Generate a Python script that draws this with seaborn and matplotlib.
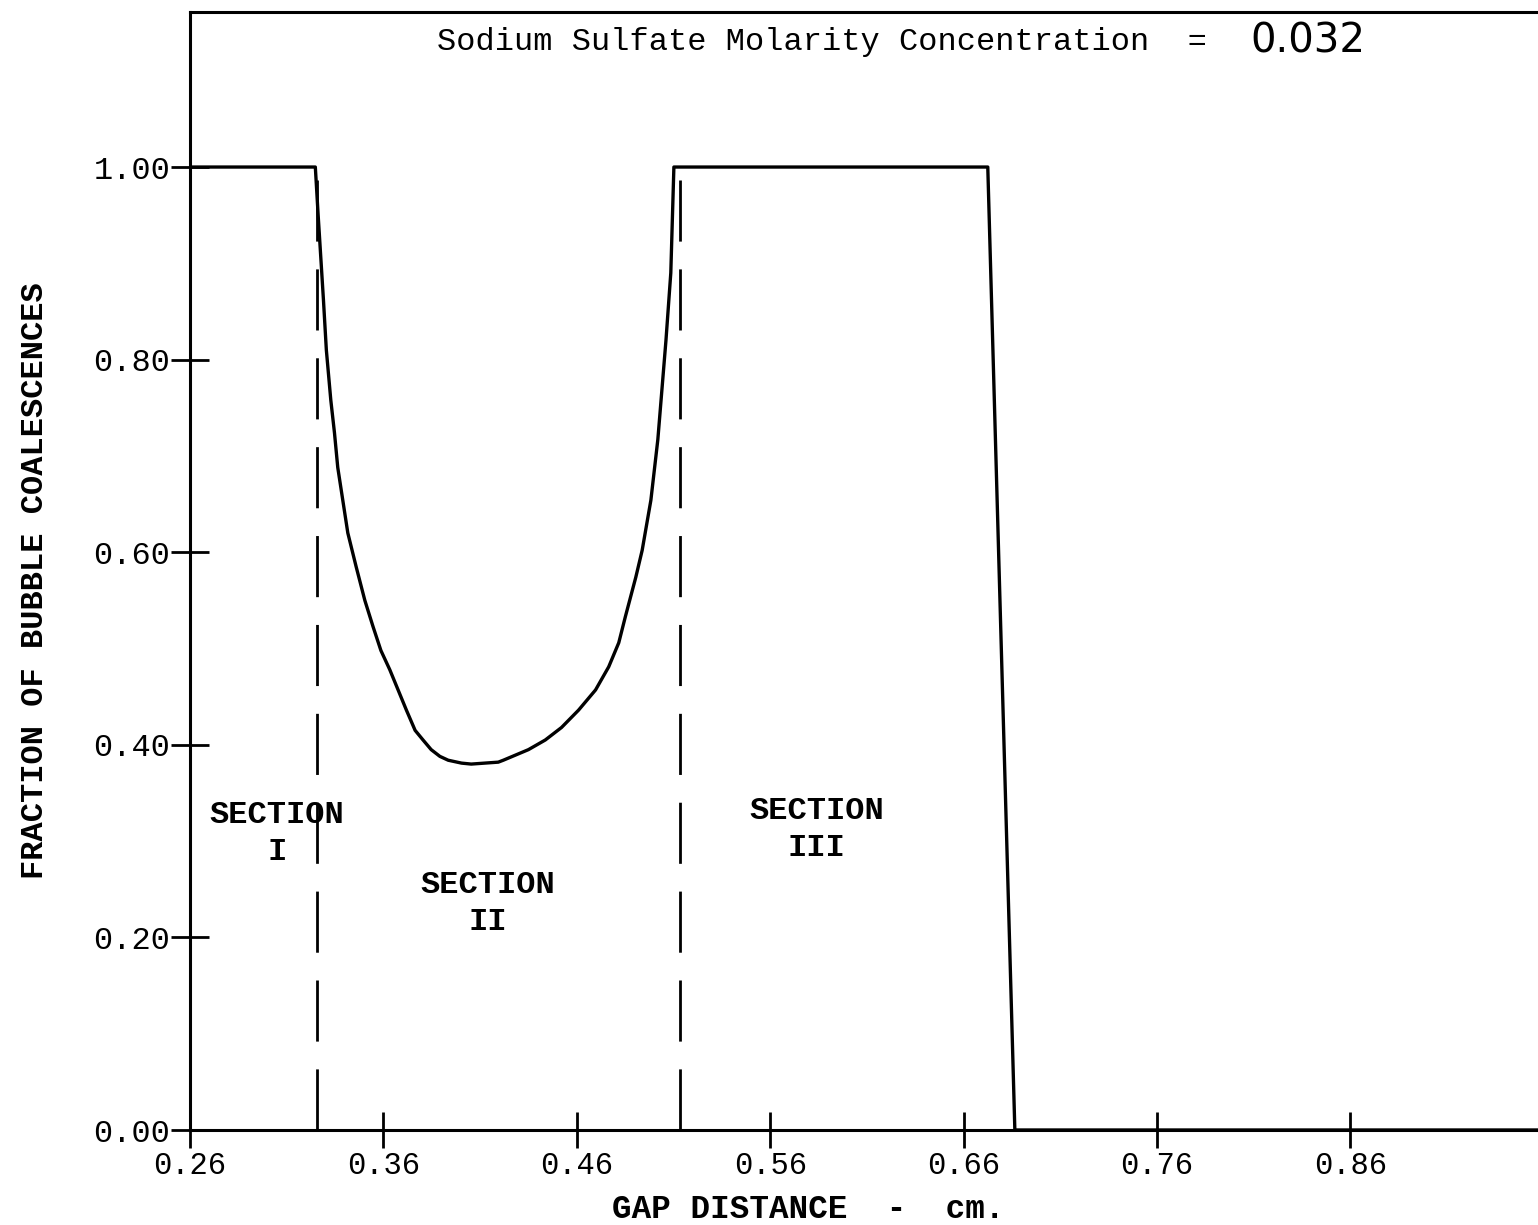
import matplotlib
matplotlib.use("Agg")
import matplotlib.pyplot as plt
import seaborn as sns
import pandas as pd

# ---- data ----
gap_cm = [0.260, 0.3248, 0.3262, 0.3290, 0.3305, 0.3328, 0.3347, 0.3364, 0.3390,
          0.3416, 0.3459, 0.3504, 0.3546, 0.3587, 0.3633, 0.3676, 0.3719, 0.3764,
          0.3805, 0.3847, 0.3892, 0.3935, 0.4004, 0.4054, 0.4194, 0.4220, 0.4350,
          0.4437, 0.4521, 0.4609, 0.4697, 0.4765, 0.4817, 0.4851, 0.4905, 0.4938,
          0.4983, 0.5019, 0.5061, 0.5086, 0.5102, 0.6725, 0.6865, 0.957]
fraction = [1.000, 1.000, 0.952, 0.862, 0.810, 0.758, 0.724, 0.688, 0.654,
            0.620, 0.585, 0.550, 0.523, 0.498, 0.478, 0.457, 0.436, 0.415,
            0.405, 0.395, 0.388, 0.384, 0.381, 0.380, 0.382, 0.384, 0.395,
            0.405, 0.418, 0.436, 0.457, 0.481, 0.506, 0.533, 0.574, 0.602,
            0.654, 0.717, 0.820, 0.890, 1.000, 1.000, 0.000, 0.000]
section_bounds = [0.3255, 0.5135]
section_names = ["SECTION\nI", "SECTION\nII", "SECTION\nIII"]
section_x = [0.305, 0.414, 0.584]
section_y = [0.308, 0.235, 0.312]
x_ticks = [0.26, 0.36, 0.46, 0.56, 0.66, 0.76, 0.86]
x_tick_labels = ["0.26", "0.36", "0.46", "0.56", "0.66", "0.76", "0.86"]
y_ticks = [0.0, 0.2, 0.4, 0.6, 0.8, 1.0]
y_tick_labels = ["0.00", "0.20", "0.40", "0.60", "0.80", "1.00"]
title_text = "Sodium Sulfate Molarity Concentration  =  "
conc_text = "0.032"
x_label = "GAP DISTANCE  -  cm."
y_label = "FRACTION OF BUBBLE COALESCENCES"

sns.set_theme(style="ticks")
plt.rcParams["font.family"] = ["Liberation Mono", "DejaVu Sans Mono"]

fig = plt.figure(figsize=(15.38, 12.25), dpi=100)
ax = fig.add_axes([190 / 1538, 95 / 1225, 1 - 190 / 1538, (1130 - 12) / 1225])

df = pd.DataFrame({"gap": gap_cm, "frac": fraction})
sns.lineplot(data=df, x="gap", y="frac", sort=False, estimator=None,
             color="black", linewidth=2.4, ax=ax)
for ln in ax.get_lines():
    ln.set_solid_joinstyle("round")

for xb in section_bounds:
    ax.plot([xb, xb], [0.0, 1.0], color="black", linewidth=2.0,
            dashes=(22, 10))

for name, sx, sy in zip(section_names, section_x, section_y):
    ax.text(sx, sy, name, ha="center", va="center", fontsize=23,
            fontweight="bold", linespacing=1.3, color="black")

ax.text(0.3875, 1.13, title_text, ha="left", va="center", fontsize=23,
        color="black")
ax.text(0.8084, 1.13, conc_text, ha="left", va="center", fontsize=29,
        family=["DejaVu Sans"], color="black")

ax.set_xlim(0.26, 0.957)
ax.set_ylim(0.0, 1.161)
ax.set_xticks(x_ticks)
ax.set_xticklabels(x_tick_labels)
ax.set_yticks(y_ticks)
ax.set_yticklabels(y_tick_labels)
ax.tick_params(axis="x", direction="inout", length=26, width=2.0,
               labelsize=22, pad=2, colors="black")
ax.tick_params(axis="y", direction="inout", length=28, width=2.0,
               labelsize=23, pad=0, colors="black")

ax.set_xlabel(x_label, fontsize=23.5, fontweight="bold", color="black")
ax.xaxis.set_label_coords(0.459, -0.057)
ax.set_ylabel(y_label, fontsize=23, fontweight="bold", color="black")
ax.yaxis.set_label_coords(-0.104, 0.491)

for side in ["left", "bottom", "top"]:
    ax.spines[side].set_linewidth(2.2)
    ax.spines[side].set_color("black")
ax.spines["right"].set_visible(False)

fig.savefig("out.png", dpi=100, facecolor="white")
